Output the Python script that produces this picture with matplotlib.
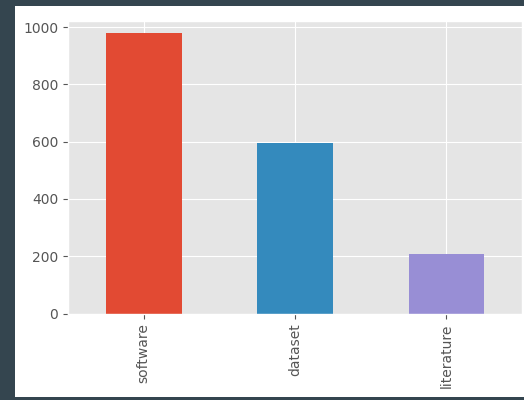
import matplotlib
matplotlib.use("Agg")
import matplotlib.pyplot as plt
from matplotlib.patches import Rectangle

categories = ["software", "dataset", "literature"]
counts = [978, 596, 208]
bar_colors = ["#E24A33", "#348ABD", "#988ED5"]
y_ticks = [0, 200, 400, 600, 800, 1000]

plt.style.use("ggplot")

fig = plt.figure(figsize=(5.24, 4.0), dpi=100, facecolor="#34454f")
# white panel behind the plot
fig.patches.append(Rectangle((15 / 524, 3 / 400), 1 - 15 / 524, (397 - 6) / 400,
                             transform=fig.transFigure, facecolor="white",
                             edgecolor="none", zorder=-10))

ax = fig.add_axes([68 / 524, (400 - 313.5) / 400, (522 - 68) / 524, (313.5 - 21) / 400])
x = list(range(len(categories)))
ax.bar(x, counts, width=0.5, color=bar_colors)
ax.set_xlim(-0.5, len(categories) - 0.5)
ax.set_ylim(0, 1021)
ax.set_xticks(x)
ax.set_xticklabels(categories, rotation=90)
ax.set_yticks(y_ticks)
ax.tick_params(labelsize=10, colors="#555555")
ax.set_axisbelow(True)

fig.savefig("out.png", dpi=100, facecolor=fig.get_facecolor())
